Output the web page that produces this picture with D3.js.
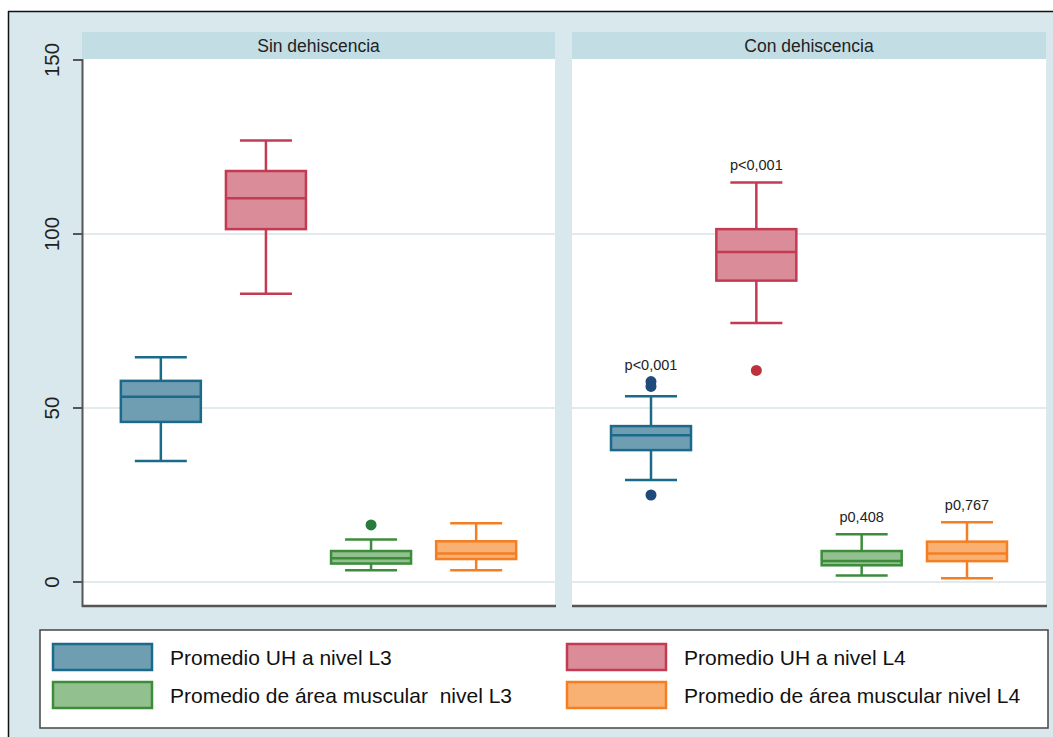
<!DOCTYPE html>
<html>
<head>
<meta charset="utf-8">
<script src="https://cdn.jsdelivr.net/npm/d3@7"></script>
<style>
  html, body { margin: 0; padding: 0; background: #ffffff; }
  svg { display: block; }
  text { font-family: "Liberation Sans", Arial, sans-serif; }
</style>
</head>
<body>
<svg id="chart" width="1053" height="737"></svg>
<script>
// Panels (groups) and the four measures drawn in each
const panels = ["Sin dehiscencia", "Con dehiscencia"];
const measures = ["uhL3", "uhL4", "musL3", "musL4"];
const legendLabels = [
  "Promedio UH a nivel L3",
  "Promedio UH a nivel L4",
  "Promedio de área muscular  nivel L3",
  "Promedio de área muscular nivel L4"
];
const yTicks = [0, 50, 100, 150];

// Box statistics per panel: [lower whisker, Q1, median, Q3, upper whisker]
const sinStats = [
  [34.8, 46.0, 53.2, 57.8, 64.6],
  [82.8, 101.4, 110.3, 118.1, 126.9],
  [3.4, 5.3, 6.8, 8.9, 12.2],
  [3.4, 6.6, 8.2, 11.7, 16.9]
];
const conStats = [
  [29.3, 37.9, 42.2, 44.8, 53.4],
  [74.4, 86.6, 94.8, 101.4, 114.8],
  [1.9, 4.8, 6.0, 8.9, 13.7],
  [1.1, 6.0, 8.2, 11.6, 17.2]
];
// Outliers per panel: [measure index, value]
const sinOutliers = [[2, 16.4]];
const conOutliers = [[0, 57.6], [0, 56.2], [0, 25.0], [1, 60.8]];
// p-value annotations above the "Con dehiscencia" boxes
const conPvalues = ["p<0,001", "p<0,001", "p0,408", "p0,767"];

const colors = {
  uhL3:  { fill: "#6f9db2", stroke: "#1c6a8a", dot: "#1f4a7a" },
  uhL4:  { fill: "#da8c98", stroke: "#c23b52", dot: "#c0303c" },
  musL3: { fill: "#93c08f", stroke: "#3c8c3c", dot: "#2a7a3c" },
  musL4: { fill: "#f9b173", stroke: "#f57e22", dot: "#f57e22" }
};

const svg = d3.select("#chart");
const W = 1053, H = 737;

// Outer graph region
svg.append("rect").attr("x", 8).attr("y", 11).attr("width", W - 8).attr("height", H - 11)
  .attr("fill", "#d8e8ec");
svg.append("line").attr("x1", 8).attr("x2", W).attr("y1", 11.5).attr("y2", 11.5)
  .attr("stroke", "#111").attr("stroke-width", 1.5);
svg.append("line").attr("x1", 8.5).attr("x2", 8.5).attr("y1", 11).attr("y2", H)
  .attr("stroke", "#111").attr("stroke-width", 1.5);

const plotTop = 59, plotBottom = 606;
const headerTop = 32;
const panelX = [[82, 555], [572, 1046]];

const y = d3.scaleLinear().domain([0, 150]).range([582, 60]);

const statsByPanel = [sinStats, conStats];
const outliersByPanel = [sinOutliers, conOutliers];

panels.forEach((name, pi) => {
  const [x0, x1] = panelX[pi];
  const g = svg.append("g");

  // header strip
  g.append("rect").attr("x", x0).attr("y", headerTop).attr("width", x1 - x0)
    .attr("height", plotTop - headerTop).attr("fill", "#c3dde4");
  g.append("text").attr("x", (x0 + x1) / 2).attr("y", plotTop - 7)
    .attr("text-anchor", "middle").attr("font-size", 17.5).attr("fill", "#222")
    .text(name);

  // plot region
  g.append("rect").attr("x", x0).attr("y", plotTop).attr("width", x1 - x0)
    .attr("height", plotBottom - plotTop).attr("fill", "#ffffff");

  // grid lines
  g.selectAll(".grid").data(yTicks.filter(t => t < 150)).join("line")
    .attr("x1", x0).attr("x2", x1)
    .attr("y1", d => y(d)).attr("y2", d => y(d))
    .attr("stroke", "#e1eaed").attr("stroke-width", 2);

  // bottom axis line
  g.append("line").attr("x1", x0).attr("x2", x1 + 1)
    .attr("y1", plotBottom).attr("y2", plotBottom)
    .attr("stroke", "#555").attr("stroke-width", 2.5);

  const x = d3.scalePoint().domain(measures).range([x0, x1]).padding(0.75);
  const boxW = 80, capW = 52;

  const stats = statsByPanel[pi];
  const boxes = g.selectAll(".box").data(measures).join("g");
  boxes.each(function (m, i) {
    const s = stats[i];
    const c = colors[m];
    const cx = x(m);
    const bg = d3.select(this);
    const lw = 2.5;
    // whiskers
    bg.append("line").attr("x1", cx).attr("x2", cx).attr("y1", y(s[4])).attr("y2", y(s[3]))
      .attr("stroke", c.stroke).attr("stroke-width", lw);
    bg.append("line").attr("x1", cx).attr("x2", cx).attr("y1", y(s[1])).attr("y2", y(s[0]))
      .attr("stroke", c.stroke).attr("stroke-width", lw);
    bg.append("line").attr("x1", cx - capW / 2).attr("x2", cx + capW / 2)
      .attr("y1", y(s[4])).attr("y2", y(s[4])).attr("stroke", c.stroke).attr("stroke-width", lw);
    bg.append("line").attr("x1", cx - capW / 2).attr("x2", cx + capW / 2)
      .attr("y1", y(s[0])).attr("y2", y(s[0])).attr("stroke", c.stroke).attr("stroke-width", lw);
    // box
    bg.append("rect").attr("x", cx - boxW / 2).attr("width", boxW)
      .attr("y", y(s[3])).attr("height", y(s[1]) - y(s[3]))
      .attr("fill", c.fill).attr("stroke", c.stroke).attr("stroke-width", lw);
    // median
    bg.append("line").attr("x1", cx - boxW / 2).attr("x2", cx + boxW / 2)
      .attr("y1", y(s[2])).attr("y2", y(s[2])).attr("stroke", c.stroke).attr("stroke-width", lw);
  });

  // outliers
  g.selectAll(".out").data(outliersByPanel[pi]).join("circle")
    .attr("cx", d => x(measures[d[0]]))
    .attr("cy", d => y(d[1]))
    .attr("r", 5.5)
    .attr("fill", d => colors[measures[d[0]]].dot);

  // p-value labels
  if (pi === 1) {
    g.selectAll(".pv").data(conPvalues).join("text")
      .attr("x", (d, i) => x(measures[i]))
      .attr("y", (d, i) => {
        const top = Math.max(stats[i][4], ...conOutliers.filter(o => o[0] === i && o[1] > stats[i][4]).map(o => o[1]));
        return y(top) - 12;
      })
      .attr("text-anchor", "middle").attr("font-size", 14.5).attr("fill", "#222")
      .text(d => d);
  }
});

// Y axis on the left panel
const axisG = svg.append("g").attr("transform", `translate(82,0)`);
axisG.append("line").attr("x1", 0.5).attr("x2", 0.5).attr("y1", plotTop).attr("y2", plotBottom + 1)
  .attr("stroke", "#555").attr("stroke-width", 2);
axisG.selectAll(".tick").data(yTicks).join("line")
  .attr("x1", -9).attr("x2", 0).attr("y1", d => y(d)).attr("y2", d => y(d))
  .attr("stroke", "#555").attr("stroke-width", 2);
axisG.selectAll(".tl").data(yTicks).join("text")
  .attr("transform", d => `translate(-23,${y(d)}) rotate(-90)`)
  .attr("text-anchor", "middle").attr("font-size", 20.5).attr("fill", "#222")
  .text(d => d);

// Legend
const lg = svg.append("g");
lg.append("rect").attr("x", 40).attr("y", 630).attr("width", 1008).attr("height", 98)
  .attr("fill", "#ffffff").attr("stroke", "#444").attr("stroke-width", 1.5);
const legendPos = [[52, 643], [566, 643], [52, 681], [566, 681]];
measures.forEach((m, i) => {
  const [lx, ly] = legendPos[i];
  lg.append("rect").attr("x", lx + 1).attr("y", ly + 1).attr("width", 99).attr("height", 26)
    .attr("fill", colors[m].fill).attr("stroke", colors[m].stroke).attr("stroke-width", 2.5);
  lg.append("text").attr("x", lx + 118).attr("y", ly + 22)
    .attr("font-size", 21).attr("fill", "#111")
    .attr("xml:space", "preserve")
    .text(legendLabels[i]);
});
</script>
</body>
</html>
